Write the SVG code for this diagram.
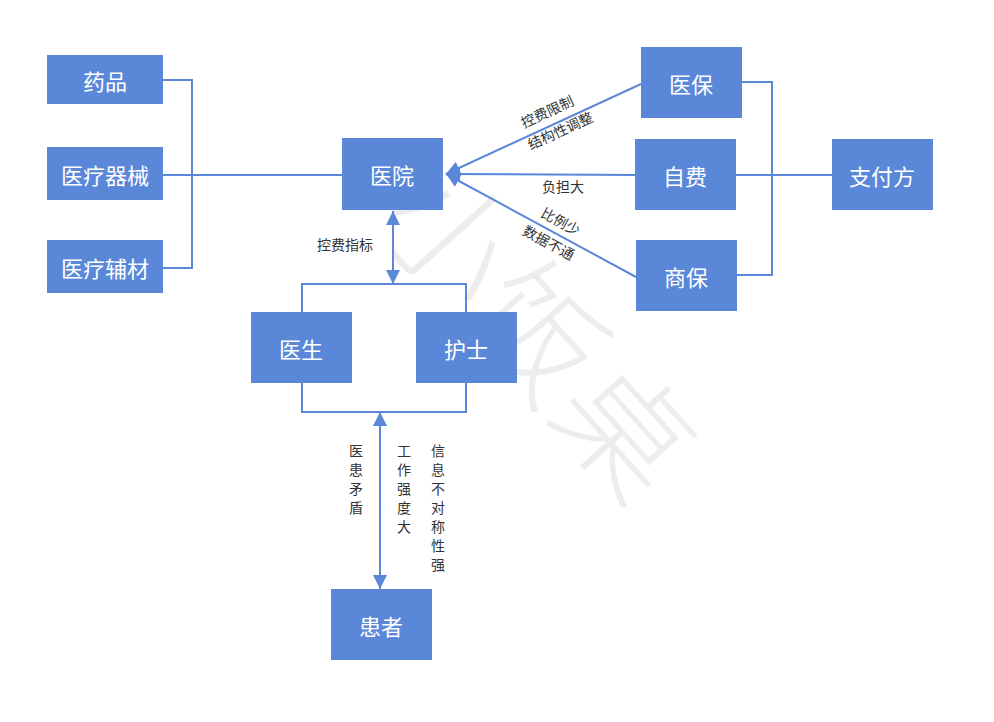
<svg xmlns="http://www.w3.org/2000/svg" width="994" height="722" viewBox="0 0 994 722">
<style>
.box{fill:#5B87D9}
.bl{fill:#fff;font-family:"Noto Sans CJK SC","Noto Sans",sans-serif;font-size:22px;text-anchor:middle;dominant-baseline:central}
.ln{stroke:#5B87D9;stroke-width:2;fill:none}
.lb{fill:#333;font-family:"Noto Sans CJK SC","Noto Sans",sans-serif;font-size:14px;text-anchor:middle;dominant-baseline:central}
.wm{fill:#000;fill-opacity:0.07;font-family:"Noto Sans CJK SC",sans-serif;font-size:130px;font-weight:300}
</style>
<defs>
<marker id="ah" viewBox="0 0 10 10" refX="10" refY="5" markerWidth="7" markerHeight="7" orient="auto-start-reverse" markerUnits="strokeWidth">
<path d="M0,0 L10,5 L0,10 z" fill="#5B87D9"/>
</marker>
</defs>
<rect width="994" height="722" fill="#fff"/>
<g id="watermark">
<text class="wm" x="0" y="0" transform="translate(372,220) rotate(48)">小饭桌</text>
</g>
<g id="connectors">
<polyline class="ln" points="163,80 192,80 192,268 163,268"/>
<line class="ln" x1="163" y1="175" x2="342" y2="175"/>
<polyline class="ln" points="742,82 772,82 772,275 737,275"/>
<line class="ln" x1="736" y1="175" x2="832" y2="175"/>
<line class="ln" x1="641" y1="84" x2="446" y2="174" marker-end="url(#ah)"/>
<line class="ln" x1="635" y1="175" x2="446" y2="174" marker-end="url(#ah)"/>
<line class="ln" x1="636" y1="277" x2="446" y2="174" marker-end="url(#ah)"/>
<line class="ln" x1="393" y1="211" x2="393" y2="284" marker-start="url(#ah)" marker-end="url(#ah)"/>
<polyline class="ln" points="302,312 302,284 466,284 466,312"/>
<polyline class="ln" points="302,383 302,412 466,412 466,383"/>
<line class="ln" x1="380" y1="412" x2="380" y2="589" marker-start="url(#ah)" marker-end="url(#ah)"/>
</g>
<g id="labels">
<text class="lb" transform="translate(547,111) rotate(-24.7)">控费限制</text>
<text class="lb" transform="translate(560,130) rotate(-24.7)">结构性调整</text>
<text class="lb" x="563" y="186">负担大</text>
<text class="lb" transform="translate(561,221) rotate(28.3)">比例少</text>
<text class="lb" transform="translate(549,242) rotate(28.3)">数据不通</text>
<text class="lb" x="345" y="244">控费指标</text>
<text class="lb"><tspan x="356" y="450">医</tspan><tspan x="356" y="469">患</tspan><tspan x="356" y="488">矛</tspan><tspan x="356" y="507">盾</tspan></text>
<text class="lb"><tspan x="404" y="450">工</tspan><tspan x="404" y="469">作</tspan><tspan x="404" y="488">强</tspan><tspan x="404" y="507">度</tspan><tspan x="404" y="526">大</tspan></text>
<text class="lb"><tspan x="438" y="450">信</tspan><tspan x="438" y="469">息</tspan><tspan x="438" y="488">不</tspan><tspan x="438" y="507">对</tspan><tspan x="438" y="526">称</tspan><tspan x="438" y="545">性</tspan><tspan x="438" y="564">强</tspan></text>
</g>
<g id="n-yaopin"><rect class="box" x="47" y="55" width="116" height="49"/><text class="bl" x="105" y="80">药品</text></g>
<g id="n-qixie"><rect class="box" x="47" y="147" width="116" height="53"/><text class="bl" x="105" y="174">医疗器械</text></g>
<g id="n-fucai"><rect class="box" x="47" y="240" width="116" height="53"/><text class="bl" x="105" y="267">医疗辅材</text></g>
<g id="n-yiyuan"><rect class="box" x="342" y="138" width="101" height="72"/><text class="bl" x="392" y="174">医院</text></g>
<g id="n-yibao"><rect class="box" x="641" y="47" width="101" height="71"/><text class="bl" x="691" y="83">医保</text></g>
<g id="n-zifei"><rect class="box" x="635" y="139" width="101" height="71"/><text class="bl" x="685" y="175">自费</text></g>
<g id="n-shangbao"><rect class="box" x="636" y="240" width="101" height="71"/><text class="bl" x="686" y="276">商保</text></g>
<g id="n-zhifu"><rect class="box" x="832" y="139" width="101" height="71"/><text class="bl" x="882" y="175">支付方</text></g>
<g id="n-yisheng"><rect class="box" x="251" y="312" width="101" height="71"/><text class="bl" x="301" y="348">医生</text></g>
<g id="n-hushi"><rect class="box" x="416" y="312" width="101" height="71"/><text class="bl" x="466" y="348">护士</text></g>
<g id="n-huanzhe"><rect class="box" x="331" y="589" width="101" height="71"/><text class="bl" x="381" y="625">患者</text></g>
</svg>
